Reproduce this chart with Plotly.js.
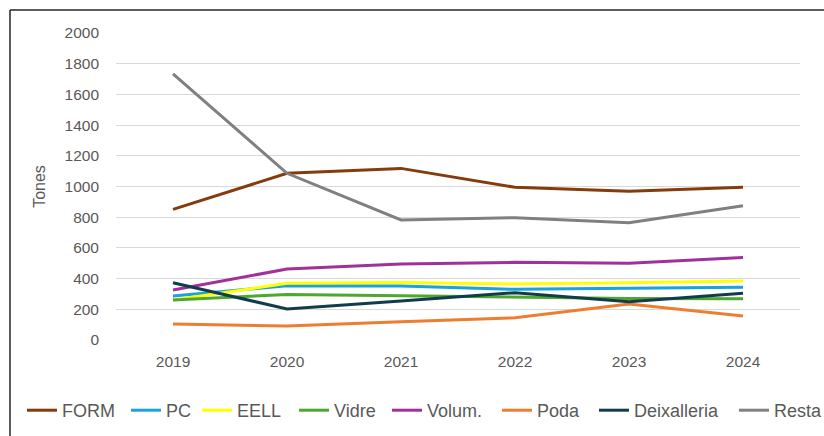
<!DOCTYPE html>
<html>
<head>
<meta charset="utf-8">
<script src="https://cdn.plot.ly/plotly-3.0.1.min.js"></script>
<style>
  html, body { margin: 0; padding: 0; background: #ffffff; }
  #chart { width: 824px; height: 436px; }
</style>
</head>
<body>
<div id="chart"></div>
<script>
const years = ['2019', '2020', '2021', '2022', '2023', '2024'];

const seriesNames = ['FORM', 'PC', 'EELL', 'Vidre', 'Volum.', 'Poda', 'Deixalleria', 'Resta'];

const formValues        = [851, 1086, 1118, 995, 969, 995];
const pcValues          = [287, 354, 352, 330, 337, 343];
const eellValues        = [260, 369, 375, 365, 373, 384];
const vidreValues       = [260, 297, 289, 282, 271, 269];
const volumValues       = [326, 462, 495, 506, 500, 537];
const podaValues        = [104, 91, 119, 145, 235, 156];
const deixalleriaValues = [373, 202, 254, 308, 250, 304];
const restaValues       = [1733, 1086, 782, 797, 764, 875];

const yTickValues = [0, 200, 400, 600, 800, 1000, 1200, 1400, 1600, 1800, 2000];

const seriesValues = [formValues, pcValues, eellValues, vidreValues, volumValues, podaValues, deixalleriaValues, restaValues];
const seriesColors = ['#843C0C', '#1BA1DB', '#FFFF00', '#4EA72E', '#A0309A', '#ED7D31', '#123B4D', '#808080'];

// pixel x where each legend entry's line sample starts (layout only)
const legendLeft = [28, 132, 203, 300, 393, 503, 600, 740];

const W = 824, H = 436;
const m = { l: 116, r: 24, t: 33, b: 96, autoexpand: false };
const pw = W - m.l - m.r, ph = H - m.t - m.b;
const px = v => (v - m.l) / pw;
const py = v => (H - m.b - v) / ph;

const legendId = i => (i === 0 ? 'legend' : 'legend' + (i + 1));

const traces = seriesNames.map((name, i) => ({
  type: 'scatter',
  mode: 'lines',
  name: name,
  x: years,
  y: seriesValues[i],
  legend: legendId(i),
  line: { color: seriesColors[i], width: 3 }
}));

const layout = {
  width: W, height: H,
  margin: m,
  paper_bgcolor: '#ffffff',
  plot_bgcolor: '#ffffff',
  font: { family: '"Liberation Sans", Arial, sans-serif', color: '#595959', size: 15 },
  showlegend: true,
  xaxis: {
    type: 'category',
    showgrid: false,
    zeroline: false,
    showline: false,
    ticks: '',
    ticklabelstandoff: 10,
    tickfont: { size: 15.5, color: '#595959' },
    range: [-0.5, 5.5]
  },
  yaxis: {
    range: [0, 2000],
    tickvals: yTickValues,
    ticktext: yTickValues.map(String),
    showgrid: true,
    gridcolor: '#D9D9D9',
    gridwidth: 1,
    zeroline: false,
    showline: false,
    ticks: '',
    ticklabelstandoff: 16,
    tickfont: { size: 15.5, color: '#595959' },
    title: { text: 'Tones', font: { size: 16, color: '#595959' }, standoff: 14 }
  },
  shapes: [
    { type: 'line', xref: 'paper', yref: 'paper', x0: px(10), x1: px(10), y0: py(10), y1: py(440),
      line: { color: '#262626', width: 1.5 } },
    { type: 'line', xref: 'paper', yref: 'paper', x0: px(10), x1: px(830), y0: py(10), y1: py(10),
      line: { color: '#262626', width: 1.5 } }
  ]
};

legendLeft.forEach((lx, i) => {
  layout[legendId(i)] = {
    orientation: 'h',
    x: px(lx - 6), xanchor: 'left',
    y: py(392), yanchor: 'top',
    font: { size: 18, color: '#595959' },
    itemwidth: 30,
    bgcolor: 'rgba(0,0,0,0)'
  };
});

Plotly.newPlot('chart', traces, layout, { displayModeBar: false, staticPlot: true });
</script>
</body>
</html>
